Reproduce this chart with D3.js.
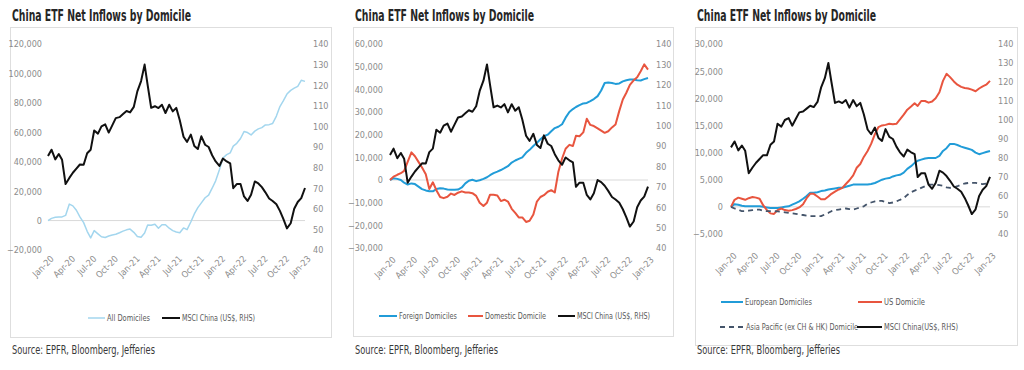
<!DOCTYPE html>
<html>
<head>
<meta charset="utf-8">
<script src="https://cdn.jsdelivr.net/npm/d3@7"></script>
<style>
  body { margin: 0; background: #fff; }
  svg text { font-family: "Liberation Sans Narrow", "DejaVu Sans Condensed", "Liberation Sans", sans-serif; }
</style>
</head>
<body>
<div id="chart"></div>
<script>
var msciChina = [85.6, 88.7, 84, 86.6, 83.8, 72, 75, 77.5, 79.5, 81.5,
  81.4, 87, 88.7, 98, 96.5, 100, 101, 97, 100.5, 104,
  104.5, 106, 107.5, 106.8, 109.5, 117, 122, 130, 120, 109,
  109.8, 108.9, 110.5, 106.5, 110.5, 107.3, 109, 103, 95, 92.5,
  96, 90.5, 89, 95.2, 91.1, 90, 86, 83, 80.8, 84.4,
  83, 82, 70, 72, 72, 66, 63.8, 66.8, 73.3, 72.3,
  70.5, 68, 65, 63.8, 62.2, 59, 55, 50.5, 53, 60,
  63.3, 65.2, 70.1];

// net inflows, US$ thousands of millions shown as 000s on the axis
var allDomiciles = [0, 1.5, 2.2, 2.5, 2.5, 3.5, 11.2, 10, 7, 2.5,
  -1.4, -7.3, -11.8, -6.8, -9, -11, -11.5, -10.5, -9.8, -9.3,
  -8.3, -7.2, -6.3, -5.8, -8, -10.8, -11.4, -8.5, -3, -3.2,
  -2.5, -5.2, -2.8, -2.8, -5.2, -6.8, -7.8, -8.3, -5, -6.2,
  -1, 4.5, 8.8, 12, 15.5, 17.3, 22, 27, 34.5, 42.5,
  44.8, 46, 50.6, 52.5, 55.8, 60.5, 59.8, 58.2, 60.8, 62.3,
  63.2, 65, 65.2, 66, 71, 77.5, 81.5, 86, 88.5, 90,
  91.2, 95.3, 94.6];

var foreignDomiciles = [0, 0.8, 0.5, 0, -1.2, -2, -1.5, -1.8, -2.9, -4,
  -4.6, -5, -5, -4, -3.6, -3.8, -4.2, -4.3, -4.3, -4.2,
  -3.3, -1.5, -0.3, 0.1, -0.5, -0.1, 0.5, 1.2, 2.1, 3,
  3.7, 4.4, 5.2, 6.1, 7.7, 8.6, 9.3, 10, 12, 13.3,
  15, 16.4, 18, 19.3, 20, 21.5, 22.9, 23.5, 24.6, 27.5,
  30, 31.3, 32.2, 33, 33.8, 34, 34.8, 35.7, 37, 39.5,
  42.8, 43, 42.8, 42.4, 42.6, 43.5, 44, 44.3, 44.3, 44,
  43.9, 44.5, 45];

var domesticDomicile = [0, 1.5, 2.3, 3, 4, 8, 12.2, 10.5, 8, 5.5,
  2.5, -4, -1, -4.5, -7.5, -8, -7.4, -6, -6.6, -5.6,
  -5, -5.5, -5.5, -5.8, -7, -10, -11.5, -10, -6.5, -6.5,
  -6.8, -9.3, -8.7, -9.5, -12.7, -14.5, -16.5, -16.5, -18.5, -18,
  -15.2, -9.5, -7.5, -6.7, -5.2, -4.5, -5.5, 3.5, 9.5, 13.8,
  15.5, 15, 19.5, 19.3, 21, 27, 24.3, 23.8, 22.8, 21.8,
  20.8, 21.5, 23.2, 24.5, 30.5, 35.5, 38.5, 42, 44, 45.3,
  48, 51, 48.7];

var europeanDomiciles = [0, 0.5, 0.4, 0.2, 0.1, 0.1, 0.1, 0.1, 0.1, 0,
  -0.1, -0.2, -0.2, -0.2, -0.1, 0, 0.1, 0.4, 0.7, 1.0,
  1.5, 2.0, 2.6, 2.6, 2.7, 2.9, 3.0, 3.2, 3.3, 3.4,
  3.5, 3.5, 3.7, 3.9, 4.1, 4.1, 4.1, 4.1, 4.1, 4.2,
  4.4, 4.7, 5.0, 5.2, 5.3, 5.6, 5.8, 5.9, 6.3, 7.0,
  7.5, 8.1, 8.5, 8.7, 8.9, 9.0, 9.0, 9.0, 9.4, 10.3,
  10.8, 11.6, 11.6, 11.4, 11.1, 10.9, 10.7, 10.5, 10.0, 9.7,
  9.9, 10.1, 10.3];

var usDomicile = [0, 1.3, 1.7, 1.5, 1.3, 1.6, 1.8, 1.7, 1.5, 0.3,
  -0.6, -1.2, -1.3, -0.6, -0.3, -0.6, -0.7, -0.6, -0.4, -0.1,
  0.5, 1.6, 2.4, 2.4, 1.9, 1.4, 1.4, 1.9, 2.4, 2.8,
  3.2, 3.5, 4.2, 4.9, 5.8, 7.2, 7.9, 9.2, 10.3, 11.6,
  13.4, 14.7, 15, 15.1, 15.3, 15.2, 15.3, 16.1, 17, 17.9,
  18.5, 19.1, 18.6, 19.5, 19.5, 19.2, 19.4, 20, 21.1, 23.2,
  24.5, 23.9, 23.1, 22.5, 22.1, 21.9, 21.8, 21.6, 21.3, 21.8,
  22.2, 22.5, 23.2];

var asiaPacific = [0, -0.3, -0.5, -0.8, -0.8, -0.7, -0.6, -0.5, -0.5, -0.7,
  -0.8, -0.8, -0.8, -0.85, -0.9, -1.0, -1.1, -1.2, -1.3, -1.4,
  -1.5, -1.6, -1.7, -1.7, -1.7, -1.7, -1.4, -1.1, -0.8, -0.6,
  -0.5, -0.4, -0.3, -0.4, -0.5, -0.3, -0.1, 0.1, 0.6, 0.8,
  1.0, 1.1, 1.1, 0.9, 0.7, 0.8, 1.0, 1.3, 1.6, 2.2,
  2.7, 3.0, 3.2, 3.5, 3.8, 4.1, 4.1, 4.1, 4.0, 3.9,
  3.6, 3.5, 3.6, 3.8, 4.1, 4.3, 4.4, 4.4, 4.4, 4.3,
  4.2, 4.3, 4.4];

// tick labels
var xTickLabels = ["Jan-20", "Apr-20", "Jul-20", "Oct-20", "Jan-21", "Apr-21", "Jul-21",
  "Oct-21", "Jan-22", "Apr-22", "Jul-22", "Oct-22", "Jan-23"];
var rightTicks = [40, 50, 60, 70, 80, 90, 100, 110, 120, 130, 140];
var leftTicks1 = [-20, 0, 20, 40, 60, 80, 100, 120];
var leftTicks2 = [-30, -20, -10, 0, 10, 20, 30, 40, 50, 60];
var leftTicks3 = [-5, 0, 5, 10, 15, 20, 25, 30];

var titleText = "China ETF Net Inflows by Domicile";
var sourceText = "Source: EPFR, Bloomberg, Jefferies";

// dates: 1st and 16th of every month
var dates = [];
for (var i = 0; i < msciChina.length; i++) {
  dates.push(new Date(2020, Math.floor(i / 2), i % 2 ? 16 : 1));
}

var parseTick = d3.timeParse("%b-%y");
var fmtK = function(v) { return d3.format(",")(v * 1000); };

var colors = {
  light: "#a3d6ee",
  blue: "#219cd8",
  red: "#e8553f",
  navy: "#44546a",
  black: "#111111"
};

var svg = d3.select("#chart").append("svg")
  .attr("width", 1024)
  .attr("height", 370);

function drawPanel(p) {
  var g = svg.append("g");

  // frame
  g.append("rect")
    .attr("x", p.box[0] + 0.5).attr("y", p.box[1] + 0.5)
    .attr("width", p.box[2] - p.box[0]).attr("height", p.box[3] - p.box[1])
    .attr("fill", "none").attr("stroke", "#dedede");

  g.append("text")
    .attr("x", p.box[0] + 2).attr("y", 21)
    .attr("font-size", "15px").attr("font-weight", "bold").attr("fill", "#262626")
    .attr("textLength", 179).attr("lengthAdjust", "spacingAndGlyphs")
    .text(titleText);

  g.append("text")
    .attr("x", p.box[0] + 2).attr("y", 354)
    .attr("font-size", "12px").attr("fill", "#3a3a3a")
    .attr("textLength", 143).attr("lengthAdjust", "spacingAndGlyphs")
    .text(sourceText);

  var x = d3.scaleTime()
    .domain([dates[0], dates[dates.length - 1]])
    .range([p.plot[0], p.plot[1]]);
  var yL = d3.scaleLinear().domain(d3.extent(p.leftTicks)).range([p.plot[3], p.plot[2]]);
  var yR = d3.scaleLinear().domain(d3.extent(rightTicks)).range([p.plot[3], p.plot[2]]);

  // zero line
  g.append("line")
    .attr("x1", p.plot[0]).attr("x2", p.plot[1])
    .attr("y1", yL(0)).attr("y2", yL(0))
    .attr("stroke", "#d9d9d9").attr("stroke-width", 1);

  var axL = g.append("g")
    .attr("transform", "translate(" + p.plot[0] + ",0)")
    .call(d3.axisLeft(yL).tickValues(p.leftTicks).tickFormat(fmtK).tickSize(0).tickPadding(p.padL));
  var axR = g.append("g")
    .attr("transform", "translate(" + p.plot[1] + ",0)")
    .call(d3.axisRight(yR).tickValues(rightTicks).tickSize(0).tickPadding(8));
  [axL, axR].forEach(function(a) {
    a.select(".domain").remove();
    a.selectAll("text").attr("font-size", "9px").attr("fill", "#8c8c8c")
      .style("font-family", "'Liberation Sans Narrow', 'DejaVu Sans Condensed', sans-serif");
  });

  // rotated category labels
  g.append("g").selectAll("text")
    .data(xTickLabels)
    .enter()
    .append("text")
      .attr("text-anchor", "end")
      .attr("font-size", "9px")
      .attr("fill", "#8c8c8c")
      .attr("transform", function(d) {
        return "translate(" + (x(parseTick(d)) + 2) + "," + (p.plot[3] + p.xLab) + ") rotate(-45)";
      })
      .attr("dy", "0.7em")
      .text(function(d) { return d; });

  // series
  p.series.forEach(function(s) {
    var yS = s.axis === "right" ? yR : yL;
    var line = d3.line()
      .x(function(d, i) { return x(dates[i]); })
      .y(function(d) { return yS(d); });
    g.append("path")
      .datum(s.values)
      .attr("fill", "none")
      .attr("stroke", s.color)
      .attr("stroke-width", s.width)
      .attr("stroke-dasharray", s.dash || null)
      .attr("stroke-linejoin", "round")
      .attr("d", line);
  });

  // legend
  p.legend.forEach(function(l) {
    var s = p.series[l.series];
    g.append("line")
      .attr("x1", l.x1).attr("x2", l.x2).attr("y1", l.y).attr("y2", l.y)
      .attr("stroke", s.color).attr("stroke-width", s.width)
      .attr("stroke-dasharray", s.dash || null);
    g.append("text")
      .attr("x", l.x2 + 2).attr("y", l.y + 3)
      .attr("font-size", "9px").attr("fill", "#595959")
      .attr("textLength", l.w).attr("lengthAdjust", "spacingAndGlyphs")
      .text(s.name);
  });
}

var msciSeries = { name: "MSCI China (US$, RHS)", values: msciChina, axis: "right", color: colors.black, width: 2 };

drawPanel({
  box: [10, 27, 331, 337],
  plot: [48, 305, 44, 250],
  leftTicks: leftTicks1, padL: 6, xLab: 5,
  series: [
    { name: "All Domiciles", values: allDomiciles, color: colors.light, width: 1.5 },
    msciSeries
  ],
  legend: [
    { series: 0, x1: 88, x2: 105, y: 318, w: 43 },
    { series: 1, x1: 162, x2: 180, y: 318, w: 73 }
  ]
});

drawPanel({
  box: [353, 27, 673, 336],
  plot: [390, 648, 44, 248],
  leftTicks: leftTicks2, padL: 7, xLab: 8,
  series: [
    { name: "Foreign Domiciles", values: foreignDomiciles, color: colors.blue, width: 2 },
    { name: "Domestic Domicile", values: domesticDomicile, color: colors.red, width: 2 },
    msciSeries
  ],
  legend: [
    { series: 0, x1: 379, x2: 397, y: 316, w: 58 },
    { series: 1, x1: 468, x2: 483, y: 316, w: 61 },
    { series: 2, x1: 558, x2: 575, y: 316, w: 73 }
  ]
});

drawPanel({
  box: [695, 27, 1017, 345],
  plot: [731, 990, 44, 234],
  leftTicks: leftTicks3, padL: 8, xLab: 18,
  series: [
    { name: "European Domiciles", values: europeanDomiciles, color: colors.blue, width: 2 },
    { name: "US Domicile", values: usDomicile, color: colors.red, width: 2 },
    { name: "Asia Pacific (ex CH & HK) Domicile", values: asiaPacific, color: colors.navy, width: 1.8, dash: "5,4" },
    { name: "MSCI China(US$, RHS)", values: msciChina, axis: "right", color: colors.black, width: 2 }
  ],
  legend: [
    { series: 0, x1: 721, x2: 743, y: 302, w: 67 },
    { series: 1, x1: 858, x2: 882, y: 302, w: 41 },
    { series: 2, x1: 720, x2: 744, y: 327, w: 112 },
    { series: 3, x1: 857, x2: 882, y: 327, w: 74 }
  ]
});
</script>
</body>
</html>
